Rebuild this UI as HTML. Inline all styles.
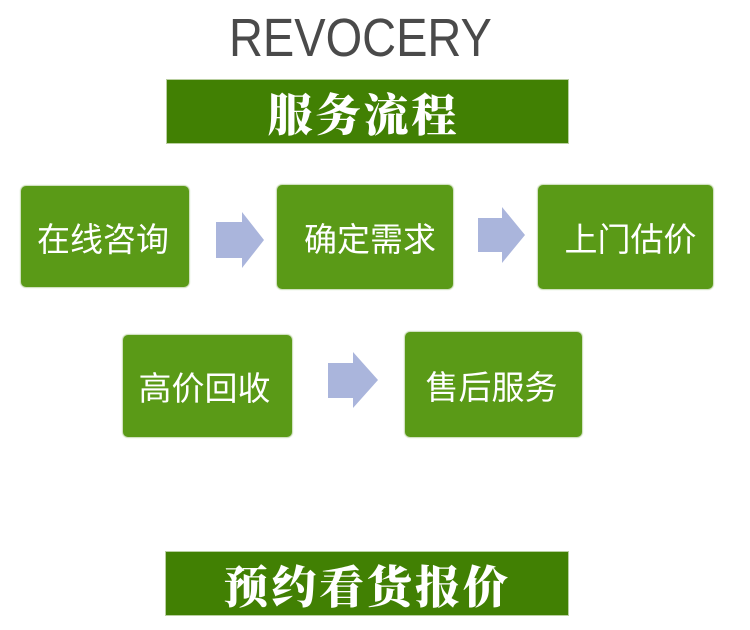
<!DOCTYPE html>
<html><head><meta charset="utf-8"><style>
html,body{margin:0;padding:0;background:#fff;}
body{width:750px;height:630px;position:relative;overflow:hidden;}
.title{position:absolute;left:229px;top:8px;width:270px;height:60px;font-family:"Liberation Sans",sans-serif;font-size:54px;color:#4a4a4a;line-height:60px;white-space:nowrap;}
.title span{display:inline-block;transform:scaleX(0.87);transform-origin:left center;}
.bar{position:absolute;background:#418003;color:#fff;font-family:"Noto Serif CJK SC","Liberation Serif",serif;font-weight:800;font-size:45px;text-align:center;letter-spacing:3px;box-shadow:0 0 0 1px #b9cfa0;}
.box{position:absolute;background:#5a9a17;border-radius:5px;color:#fff;font-family:"Liberation Sans","Noto Sans CJK SC",sans-serif;font-size:33px;display:flex;align-items:center;justify-content:center;box-shadow:0 0 1px 1px #c9dcb5;}
svg{position:absolute;left:0;top:0;}
</style></head><body>
<div class="title"><span>REVOCERY</span></div>
<div class="bar" style="left:167px;top:80px;width:401px;height:63px;line-height:63px;padding-right:8px;box-sizing:border-box;">服务流程</div>
<div class="bar" style="left:166px;top:552px;width:402px;height:63px;line-height:63px;">预约看货报价</div>

<div class="box" style="left:21px;top:186px;width:168px;height:101px;padding-right:4px;box-sizing:border-box;">在线咨询</div>
<div class="box" style="left:277px;top:185px;width:176px;height:104px;padding-left:10px;box-sizing:border-box;">确定需求</div>
<div class="box" style="left:538px;top:185px;width:175px;height:104px;padding-left:10px;box-sizing:border-box;">上门估价</div>
<div class="box" style="left:123px;top:335px;width:169px;height:102px;padding-right:6px;box-sizing:border-box;">高价回收</div>
<div class="box" style="left:405px;top:332px;width:177px;height:105px;padding-right:4px;box-sizing:border-box;">售后服务</div>

<svg width="750" height="630">
<polygon points="216,222 242,222 242,212 264,240 242,268 242,258 216,258" fill="#aab5dc"/>
<polygon points="478,218 502,218 502,207 525,235 502,263 502,252 478,252" fill="#aab5dc"/>
<polygon points="328,363 353,363 353,352 378,380 353,408 353,398 328,398" fill="#aab5dc"/>
</svg>
</body></html>
